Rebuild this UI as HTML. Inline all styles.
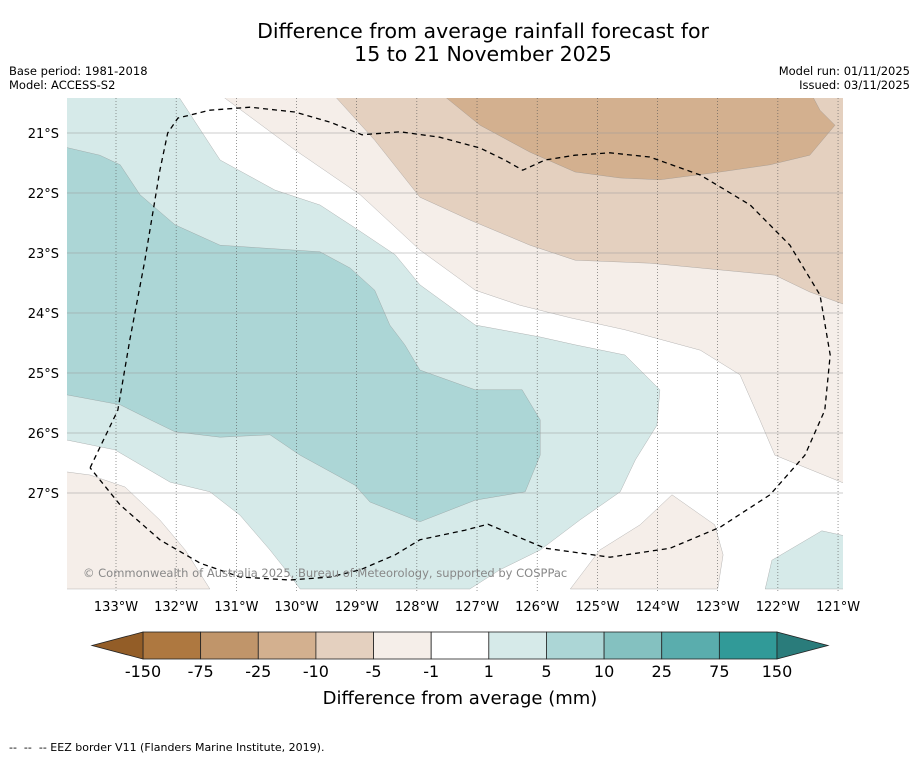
<!DOCTYPE html>
<html><head><meta charset="utf-8"><style>
body{margin:0;background:#fff;font-family:"DejaVu Sans","Liberation Sans",sans-serif;}
svg{display:block}
</style></head><body>
<svg id="c" width="919" height="758" xmlns="http://www.w3.org/2000/svg" font-family="DejaVu Sans, Liberation Sans, sans-serif">
<text x="483" y="38" font-size="20.5" text-anchor="middle">Difference from average rainfall forecast for</text>
<text x="483" y="61" font-size="20.5" text-anchor="middle">15 to 21 November 2025</text>
<text x="9" y="75" font-size="11.5">Base period: 1981-2018</text>
<text x="9" y="89" font-size="11.5">Model: ACCESS-S2</text>
<text x="910" y="75" font-size="11.5" text-anchor="end">Model run: 01/11/2025</text>
<text x="910" y="89" font-size="11.5" text-anchor="end">Issued: 03/11/2025</text>
<defs><clipPath id="mc"><rect x="67" y="98" width="776" height="493"/></clipPath></defs>
<g id="map" clip-path="url(#mc)"></g>
<g id="axes"></g>
<text x="83" y="577" font-size="11.5" fill="#888">© Commonwealth of Australia 2025, Bureau of Meteorology, supported by COSPPac</text>
<g id="cbar"></g>
<text x="460" y="704" font-size="18" text-anchor="middle">Difference from average (mm)</text>
<text x="9" y="751" font-size="11" xml:space="preserve" style="white-space:pre">--  --  -- EEZ border V11 (Flanders Marine Institute, 2019).</text>
</svg>
<script>
// data (lon as degrees West, lat as degrees South)
const lonTicks=[133,132,131,130,129,128,127,126,125,124,123,122,121];
const latTicks=[21,22,23,24,25,26,27];
const cbLevels=["-150","-75","-25","-10","-5","-1","1","5","10","25","75","150"];
const cbColors=["#ae7840","#c0956a","#d3b08f","#e4d0bf","#f5eee9","#ffffff","#d6eae9","#acd6d6","#84c1c0","#5aadad","#319a98"];
const extendColors=["#935d27","#2a7c7b"];
const contourLon1=[131.35,130.03,128.94,127.95,127.03,126.29,125.45,124.54,123.29,122.63,122.30,122.05,120.5,120.5];
const contourLat1=[20.3,21.28,22.03,22.95,23.62,23.87,24.08,24.28,24.62,25.03,25.78,26.37,27.0,20.3];
const contourLon1b=[134,133.81,133.43,132.85,132.27,131.85,131.44,134];
const contourLat1b=[26.65,26.65,26.70,26.90,27.45,27.95,28.6,28.6];
const contourLon1c=[125.45,124.96,124.29,123.76,123.05,122.91,123.0];
const contourLat1c=[28.6,27.95,27.53,27.03,27.53,28.03,28.6];
const contourLon2=[129.44,128.70,127.95,127.12,126.12,125.37,124.13,123.29,122.05,121.47,120.5,120.5];
const contourLat2=[20.3,21.12,22.07,22.45,22.87,23.12,23.17,23.25,23.37,23.65,24.0,20.3];
const contourLon3=[127.65,126.95,126.12,125.37,124.62,123.96,122.96,122.13,121.47,121.05,121.30,121.47];
const contourLat3=[20.3,20.87,21.32,21.65,21.75,21.78,21.65,21.53,21.37,20.87,20.62,20.3];
const tealLon1=[134,132.02,131.27,130.36,129.61,129.03,128.36,127.95,127.03,125.95,125.37,124.54,123.96,124.01,124.37,124.62,125.29,125.95,126.62,127.12,129.94,130.11,130.44,130.94,131.44,132.10,133.02,134];
const tealLat1=[20.3,20.3,21.45,21.95,22.2,22.58,23.03,23.53,24.2,24.4,24.53,24.7,25.28,25.87,26.45,26.98,27.45,27.95,28.28,28.6,28.6,28.37,27.95,27.37,26.98,26.82,26.28,26.08];
const tealLon1b=[122.21,122.10,121.27,120.5,120.5];
const tealLat1b=[28.6,28.12,27.63,27.8,28.6];
const tealLon2=[134,133.27,132.93,132.60,132.02,131.27,129.61,129.11,128.70,128.45,128.20,127.95,127.03,126.25,125.95,125.95,126.20,127.03,127.95,128.78,129.03,129.94,130.44,131.27,132.02,132.43,132.93,134];
const tealLat2=[21.2,21.37,21.53,22.03,22.53,22.87,22.98,23.25,23.62,24.2,24.53,24.95,25.28,25.28,25.78,26.37,26.98,27.12,27.48,27.15,26.87,26.37,26.03,26.07,25.98,25.78,25.53,25.33];
const eezLon=[133.43,132.97,132.77,132.52,132.27,132.14,131.97,131.44,130.77,130.03,129.44,128.91,128.28,127.62,126.95,126.54,126.24,125.87,125.37,124.79,124.13,123.29,122.46,121.80,121.30,121.13,121.22,121.55,122.13,122.96,123.79,124.79,125.87,126.82,127.20,127.95,128.36,128.94,129.44,130.11,130.94,131.60,132.27,132.93,133.43];
const eezLat=[26.58,25.62,24.45,23.12,21.62,21.0,20.75,20.62,20.57,20.65,20.82,21.03,20.98,21.07,21.25,21.45,21.62,21.45,21.37,21.33,21.4,21.7,22.2,22.87,23.7,24.7,25.62,26.37,27.03,27.57,27.92,28.07,27.92,27.52,27.62,27.78,28.03,28.28,28.4,28.45,28.4,28.17,27.78,27.2,26.58];

const NS="http://www.w3.org/2000/svg";
const X=lon=>116+(133-lon)*60.17;
const Y=lat=>133+(lat-21)*60;
function mk(tag,attrs,parent){const e=document.createElementNS(NS,tag);for(const k in attrs)e.setAttribute(k,attrs[k]);parent.appendChild(e);return e;}
const map=document.getElementById('map');
mk('rect',{x:67,y:98,width:776,height:493,fill:'#fff'},map);
function poly(lons,lats,fill,name){
  const pts=lons.map((l,i)=>X(l).toFixed(1)+','+Y(lats[i]).toFixed(1)).join(' ');
  const p=mk('polygon',{points:pts,fill:fill,stroke:'#888','stroke-width':0.3},map);
  
  
}
poly(contourLon1,contourLat1,cbColors[4],'contour-minus1');
poly(contourLon1b,contourLat1b,cbColors[4],'contour-minus1-southwest');
poly(contourLon1c,contourLat1c,cbColors[4],'contour-minus1-south');
poly(contourLon2,contourLat2,cbColors[3],'contour-minus5');
poly(contourLon3,contourLat3,cbColors[2],'contour-minus10');
poly(tealLon1,tealLat1,cbColors[6],'contour-plus1');
poly(tealLon1b,tealLat1b,cbColors[6],'contour-plus1-southeast');
poly(tealLon2,tealLat2,cbColors[7],'contour-plus5');
// gridlines
lonTicks.forEach(l=>{const g=mk('line',{x1:X(l),x2:X(l),y1:98,y2:591,stroke:'#555','stroke-width':0.6,'stroke-dasharray':'1,2'},map);
  
  });
latTicks.forEach(l=>{const g=mk('line',{x1:67,x2:843,y1:Y(l),y2:Y(l),stroke:'#999','stroke-width':0.5},map);
  
  });
// EEZ
const eez=mk('polyline',{points:eezLon.map((l,i)=>X(l).toFixed(1)+','+Y(eezLat[i]).toFixed(1)).join(' '),fill:'none',stroke:'#000','stroke-width':1.3,'stroke-dasharray':'5,4'},map);


// axes labels
const ax=document.getElementById('axes');
lonTicks.forEach(l=>{const t=mk('text',{x:X(l),y:611,'font-size':13,'text-anchor':'middle'},ax);t.textContent=l+'°W';
  
  });
latTicks.forEach(l=>{const t=mk('text',{x:59,y:Y(l)+5,'font-size':13,'text-anchor':'end'},ax);t.textContent=l+'°S';
  
  });
// colorbar
const cb=document.getElementById('cbar');
const x0=143,w=(777-143)/cbColors.length,y0=632,h=27;
cbColors.forEach((c,i)=>{const r=mk('rect',{x:x0+i*w,y:y0,width:w,height:h,fill:c,stroke:'#222','stroke-width':0.8},cb);
  
  });
const lt=mk('polygon',{points:`${x0},${y0} 92,${y0+h/2} ${x0},${y0+h}`,fill:extendColors[0],stroke:'#222','stroke-width':0.8},cb);


const rt=mk('polygon',{points:`777,${y0} 828,${y0+h/2} 777,${y0+h}`,fill:extendColors[1],stroke:'#222','stroke-width':0.8},cb);


cbLevels.forEach((v,i)=>{const t=mk('text',{x:x0+i*w,y:677,'font-size':16,'text-anchor':'middle'},cb);t.textContent=v;
  
  });
</script>
</body></html>
